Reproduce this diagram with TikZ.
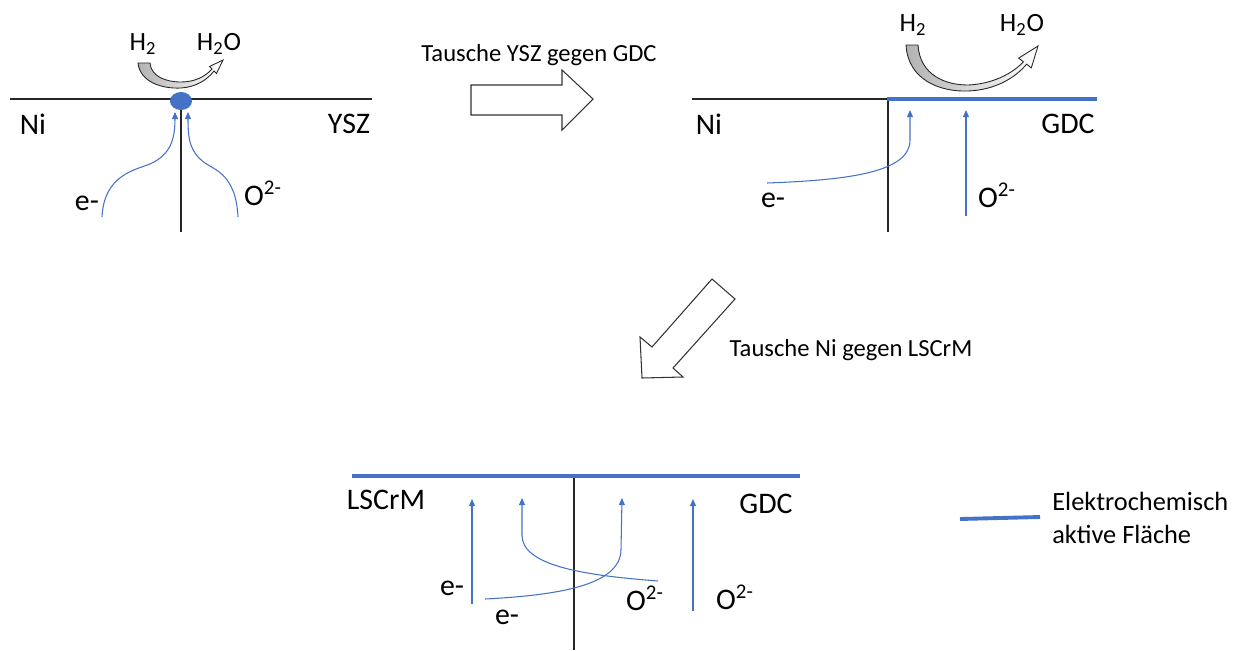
\documentclass[tikz,border=0pt]{standalone}
\usepackage{fontspec}
\setmainfont{Carlito}
\usepackage{xcolor}
\usetikzlibrary{arrows.meta, positioning, shapes.geometric}
\definecolor{actblue}{HTML}{4472C4}

\begin{document}
\begin{tikzpicture}[
  x=0.02cm, y=-0.02cm,
  lbl/.style={inner sep=0pt, font=\fontsize{17}{20}\selectfont},
  gas/.style={inner sep=0pt, font=\fontsize{15}{18}\selectfont},
  steptxt/.style={inner sep=0pt, font=\fontsize{14}{17}\selectfont},
  bline/.style={line width=0.6pt, black!85},
  surf/.style={line width=2.6pt, actblue},
  ion/.style={-{Triangle[length=4pt, width=3.4pt]}, line width=0.6pt, actblue},
  bigarrow/.style={draw=black!80, line width=0.6pt, fill=white, line join=miter},
  turn/.style={draw=black!85, line width=0.5pt, left color=black!30, right color=white},
  tpb/.style={ellipse, fill=actblue, inner sep=0pt, minimum width=0.44cm, minimum height=0.36cm},
]
  \useasboundingbox (0,0) rectangle (1250,650);

  % --- Ni / YSZ
  \coordinate (nil) at (10,99);
  \coordinate (ysr) at (372,99);
  \coordinate (nibot) at (181,232);
  \draw[bline] (nil) -- (ysr);
  \draw[bline] (nibot) -- (nibot |- nil);
  \node[tpb] (dot) at (181,101) {};
  \node[lbl] (ni1) at (33,124) {Ni};
  \node[lbl] (ysz) at (349,124) {YSZ};
  \node[lbl] (e1) at (87,203) {e-};
  \node[lbl] (o1) at (263,193) {O\textsuperscript{2-}};
  \node[gas] (h1) at (143,44) {H\textsubscript{2}};
  \node[gas] (w1) at (219,44) {H\textsubscript{2}O};
  \path[turn] (138,63) .. controls (140,82) and (162,89) .. (181,88)
    .. controls (196,87) and (207,80) .. (214,71) -- (216.5,73.5) -- (223,60)
    -- (209.5,66.5) -- (212,69) .. controls (205,77) and (194,82) .. (181,82)
    .. controls (165,82) and (151,76) .. (150,63) -- cycle;
  \coordinate (e1s) at (102,217);
  \coordinate (e1t) at (175,112);
  \coordinate (o1s) at (238,217);
  \coordinate (o1t) at (188,112);
  \draw[ion] (e1s) .. controls (104,175) and (135,170) .. (150,164)
    .. controls (170,155) and (175,140) .. (e1t);
  \draw[ion] (o1s) .. controls (236,175) and (215,170) .. (205,163)
    .. controls (190,152) and (188,140) .. (o1t);

  % --- step 1
  \path[bigarrow] (471,85) -- (562,85) -- (562,70) -- (593,99) -- (562,130)
    -- (562,115) -- (471,115) -- cycle;
  \node[steptxt] (swap1) at (539,55) {Tausche YSZ gegen GDC};

  % --- Ni / GDC
  \coordinate (ni2l) at (692,99);
  \coordinate (gdcl) at (887,99);
  \coordinate (gdcr) at (1097,99);
  \coordinate (ni2bot) at (888,232);
  \draw[bline] (ni2l) -- (gdcl);
  \draw[bline] (ni2bot) -- (ni2bot |- gdcl);
  \draw[surf] (gdcl) -- (gdcr);
  \node[lbl] (ni2) at (709,124) {Ni};
  \node[lbl] (gdc2) at (1068,124) {GDC};
  \node[lbl] (e2) at (773,200) {e-};
  \node[lbl] (o2) at (997,195) {O\textsuperscript{2-}};
  \node[gas] (h2) at (913,25) {H\textsubscript{2}};
  \node[gas] (w2) at (1022,25) {H\textsubscript{2}O};
  \path[turn] (906,45) .. controls (908,80) and (940,92) .. (968,91)
    .. controls (995,90) and (1015,78) .. (1026.6,64.2) -- (1031.3,67.9)
    -- (1038,46) -- (1018.7,58.1) -- (1023.4,61.8)
    .. controls (1012,74) and (992,84) .. (968,85)
    .. controls (945,85) and (920,75) .. (918,45) -- cycle;
  \coordinate (e2s) at (767,183);
  \coordinate (e2t) at (910,110);
  \coordinate (o2s) at (966,216);
  \coordinate (o2t) at (966,110);
  \draw[ion] (e2s) .. controls (850,180) and (910,172) .. (910,140) -- (e2t);
  \draw[ion] (o2s) -- (o2t);

  % --- step 2
  \path[bigarrow] (642,378) -- (640,337) -- (652,347) -- (712,279) -- (735,299)
    -- (673,368) -- (683,377) -- cycle;
  \node[steptxt] (swap2) at (851,350) {Tausche Ni gegen LSCrM};

  % --- LSCrM / GDC
  \coordinate (lsl) at (352,476);
  \coordinate (lsr) at (800,476);
  \coordinate (lsbot) at (574,650);
  \draw[bline] (lsbot) -- (lsbot |- lsl);
  \draw[surf] (lsl) -- (lsr);
  \node[lbl] (lscrm) at (386,500) {LSCrM};
  \node[lbl] (gdc3) at (766,504) {GDC};
  \node[lbl] (e3a) at (452,588) {e-};
  \node[lbl] (e3b) at (507,617) {e-};
  \node[lbl] (o3a) at (645,598) {O\textsuperscript{2-}};
  \node[lbl] (o3b) at (735,597) {O\textsuperscript{2-}};
  \coordinate (e3as) at (472,604);
  \coordinate (e3at) at (472,499);
  \coordinate (e3bs) at (485,599);
  \coordinate (e3bt) at (622,498);
  \coordinate (o3as) at (658,581);
  \coordinate (o3at) at (522,498);
  \coordinate (o3bs) at (693,611);
  \coordinate (o3bt) at (693,499);
  \draw[ion] (e3as) -- (e3at);
  \draw[ion] (e3bs) .. controls (560,595) and (620,585) .. (621,550) -- (e3bt);
  \draw[ion] (o3as) .. controls (580,575) and (522,565) .. (522,535) -- (o3at);
  \draw[ion] (o3bs) -- (o3bt);

  % --- legend
  \coordinate (legl) at (960,519);
  \coordinate (legr) at (1040,517);
  \draw[actblue, line width=2.2pt] (legl) -- (legr);
  \node[steptxt, font=\fontsize{15}{19}\selectfont, anchor=west, align=left] (legtxt) at (1052,518)
    {Elektrochemisch\\aktive Fläche};
\end{tikzpicture}
\end{document}
